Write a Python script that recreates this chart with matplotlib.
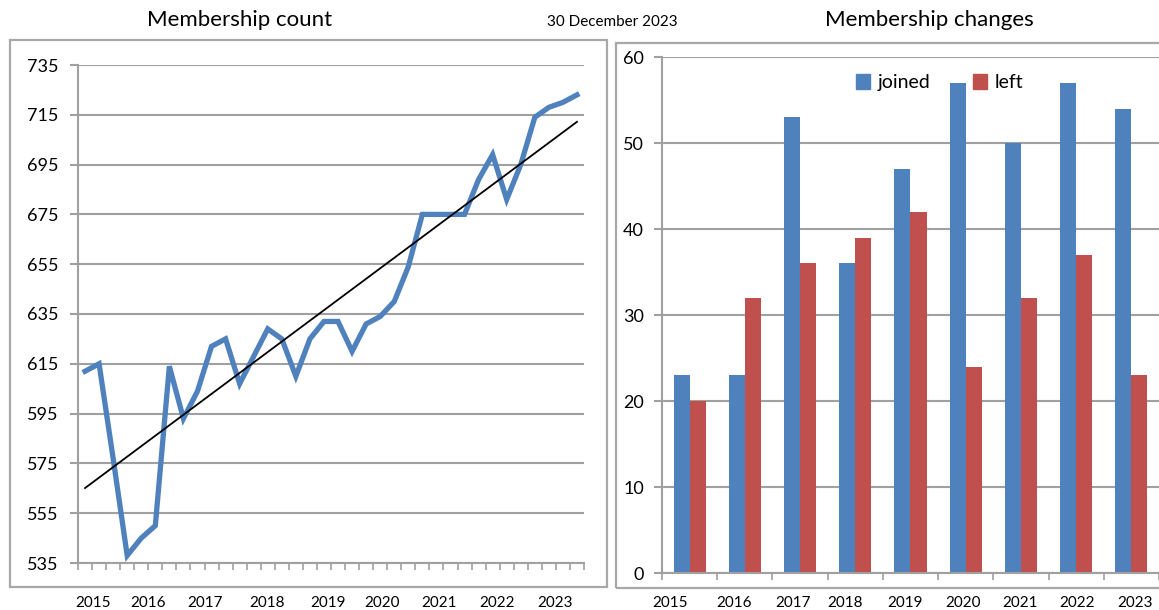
import numpy as np
import matplotlib.pyplot as plt
from matplotlib.patches import Rectangle, Patch
from matplotlib.transforms import blended_transform_factory

plt.rcParams['font.family'] = ['Lato', 'DejaVu Sans']

# quarterly membership count, 2015 Q1 .. 2023 Q4
count = [612, 615, 577, 538, 545, 550, 614, 593, 604, 622, 625, 607,
         618, 629, 625, 610, 625, 632, 632, 620, 631, 634, 640, 654,
         675, 675, 675, 675, 689, 699, 681, 695, 714, 718, 720, 723]
years = ['2015', '2016', '2017', '2018', '2019', '2020', '2021', '2022', '2023']
joined = [23, 23, 53, 36, 47, 57, 50, 57, 54]
left = [20, 32, 36, 39, 42, 24, 32, 37, 23]

# where the year labels sit (slightly off the categories, as in the original)
left_label_pos = [0.57, 4.48, 8.53, 12.94, 17.28, 21.12, 25.18, 29.30, 33.43]
right_label_pos = [-0.36, 0.80, 1.87, 2.81, 3.90, 4.95, 5.98, 7.01, 8.06]

BLUE = '#4f81bd'
RED = '#c0504d'
GRID = '#a0a0a0'
FRAME = '#a8a8a8'

fig = plt.figure(figsize=(11.59, 6.10), dpi=100)

# panel frames
fig.patches.append(Rectangle((10/1159, 1 - 587/610), 597/1159, 547/610,
                             transform=fig.transFigure, fill=False,
                             edgecolor=FRAME, lw=1.6))
fig.patches.append(Rectangle((616/1159, 1 - 588/610), 560/1159, 545/610,
                             transform=fig.transFigure, fill=False,
                             edgecolor=FRAME, lw=1.6))

fig.text(240/1159, 1 - 20/610, 'Membership count', ha='center', va='center', fontsize=16)
fig.text(612/1159, 1 - 22/610, '30 December 2023', ha='center', va='center', fontsize=11)
fig.text(929/1159, 1 - 20/610, 'Membership changes', ha='center', va='center', fontsize=16)


def style(ax, pad):
    ax.set_axisbelow(True)
    ax.grid(axis='y', color=GRID, lw=1.5)
    for s in ['top', 'right']:
        ax.spines[s].set_visible(False)
    for s in ['left', 'bottom']:
        ax.spines[s].set_color(GRID)
        ax.spines[s].set_linewidth(1.5)
    ax.tick_params(axis='y', colors=GRID, labelcolor='black', labelsize=13,
                   length=6, width=1.5, pad=pad)
    ax.tick_params(axis='x', colors=GRID, length=5, width=1.2, labelbottom=False)


# left: membership count with linear trend
ax1 = fig.add_axes([78/1159, 1 - 563/610, 506/1159, 498/610])
x = np.arange(len(count))
ax1.plot(x, count, color=BLUE, lw=3.8, solid_joinstyle='miter', zorder=3)
k, b = np.polyfit(x, count, 1)
ax1.plot(x, k * x + b, color='black', lw=1.3, zorder=4)
ax1.set_xlim(-0.5, len(count) - 0.5)
ax1.set_ylim(535, 735)
ax1.set_yticks(np.arange(535, 736, 20))
ax1.set_xticks(np.arange(-0.5, len(count), 1))
style(ax1, 8)
tr1 = blended_transform_factory(ax1.transData, fig.transFigure)
for pos, yr in zip(left_label_pos, years):
    fig.text(pos, 1 - 603/610, yr, transform=tr1, ha='center', va='center', fontsize=11)

# right: joined / left per year
ax2 = fig.add_axes([662/1159, 1 - 573/610, 497/1159, 516/610])
xi = np.arange(len(years))
w = 0.29
ax2.bar(xi - w/2, joined, w, color=BLUE, label='joined')
ax2.bar(xi + w/2, left, w, color=RED, label='left')
ax2.set_xlim(-0.5, len(years) - 0.5)
ax2.set_ylim(0, 60)
ax2.set_yticks(np.arange(0, 61, 10))
ax2.set_xticks(np.arange(-0.5, len(years), 1))
style(ax2, 7)
tr2 = blended_transform_factory(ax2.transData, fig.transFigure)
for pos, yr in zip(right_label_pos, years):
    fig.text(pos, 1 - 603/610, yr, transform=tr2, ha='center', va='center', fontsize=11)

handles = [Patch(color=BLUE), Patch(color=RED)]
ax2.legend(handles, ['joined', 'left'], ncol=2, frameon=False, loc='center left',
           bbox_to_anchor=(0.39, 0.95), borderpad=0, borderaxespad=0,
           handlelength=0.75, handleheight=0.75, handletextpad=0.35,
           columnspacing=2.2, fontsize=14)

fig.savefig('out.png', dpi=100)
